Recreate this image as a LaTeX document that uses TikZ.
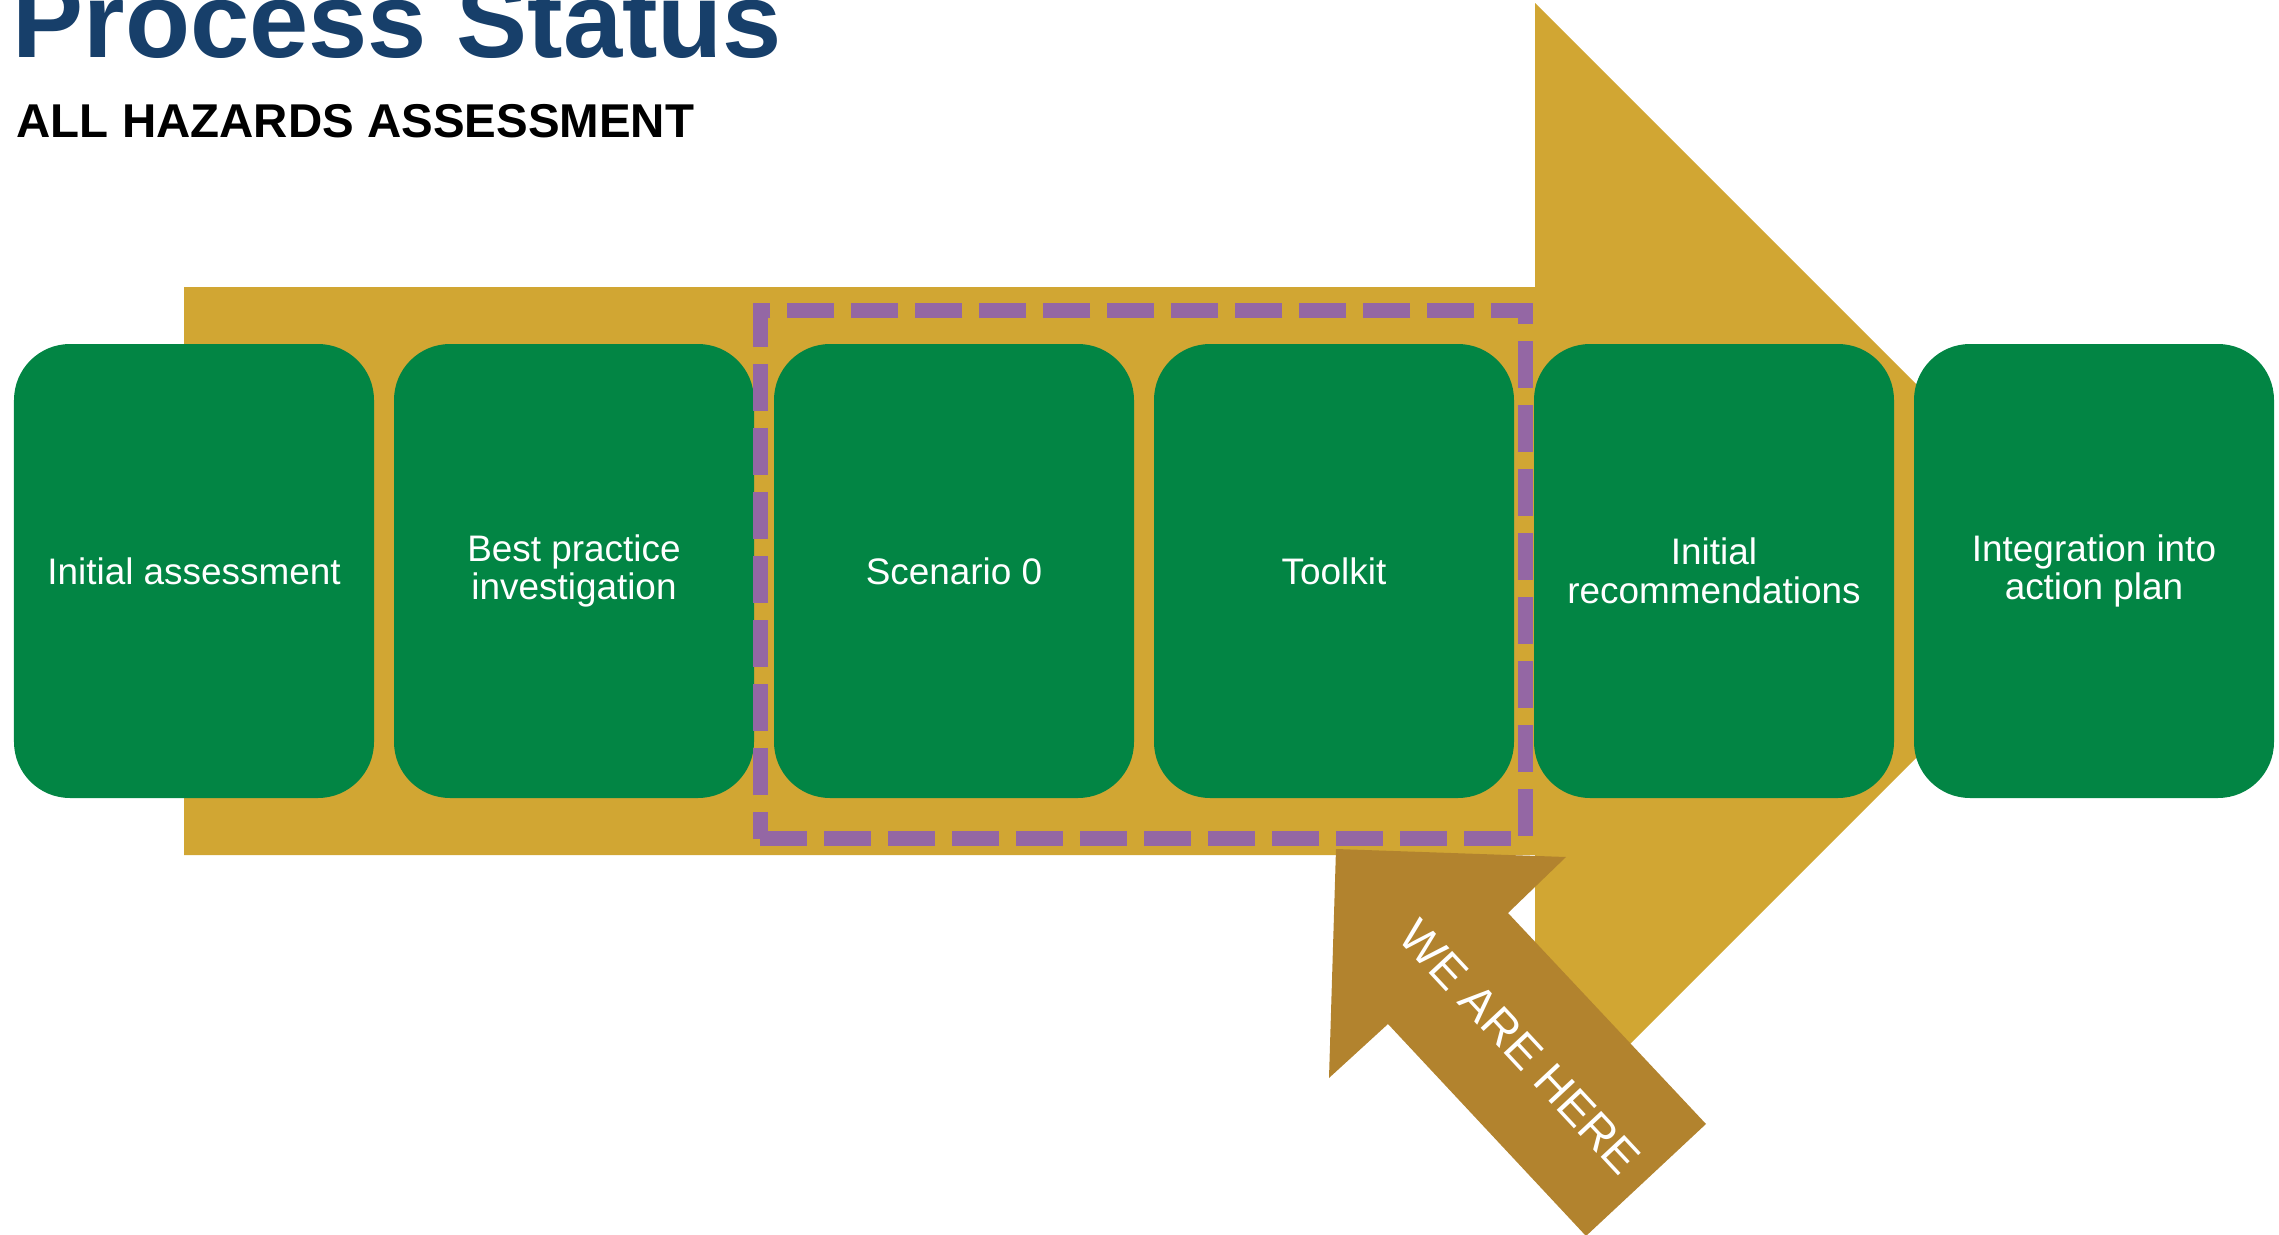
\documentclass[tikz,border=0pt]{standalone}
\usepackage{fontspec}
\setmainfont{Liberation Sans}
\usepackage{xcolor}
\usetikzlibrary{positioning,fit}

\definecolor{titleblue}{RGB}{23,63,106}
\definecolor{stagegreen}{RGB}{2,133,68}
\definecolor{arrowgold}{RGB}{209,166,51}
\definecolor{heregold}{RGB}{178,131,46}
\definecolor{markpurple}{RGB}{148,103,164}

\begin{document}
\begin{tikzpicture}[
  stage/.style={fill=stagegreen, rounded corners=0.56cm, minimum width=3.6cm, minimum height=4.54cm, inner sep=0, outer sep=0, text=white, font=\fontsize{10.5}{11}\selectfont, align=center},
  current/.style={draw=markpurple, line width=0.15cm, dash pattern=on 0.47cm off 0.17cm, inner xsep=0.125cm, inner ysep=0.372cm}
]
  \clip (0,0) rectangle (22.79,12.34);

  % headings
  \node[anchor=base west, inner sep=0, text=titleblue, font=\bfseries\fontsize{30.3}{36}\selectfont] (title) at (0.12,11.77) {Process Status};
  \node[anchor=base west, inner sep=0, font=\bfseries\fontsize{13.5}{16}\selectfont] (subtitle) at (0.16,10.97) {ALL HAZARDS ASSESSMENT};

  % big process arrow behind the stages
  \fill[arrowgold] (1.84,3.79) -- (1.84,9.47) -- (15.35,9.47) -- (15.35,12.31) -- (21.03,6.63) -- (15.35,0.95) -- (15.35,3.79) -- cycle;

  % stages
  \node[stage] (init) at (1.94,6.63) {Initial assessment};
  \node[stage, right=0.2cm of init] (best) {Best practice\\investigation};
  \node[stage, right=0.2cm of best] (scen) {Scenario 0};
  \node[stage, right=0.2cm of scen] (tool) {Toolkit};
  \node[stage, right=0.2cm of tool] (recs) {Initial\\recommendations};
  \node[stage, right=0.2cm of recs] (plan) {Integration into\\action plan};

  % current stages
  \node[current, fit=(scen)(tool), xshift=-0.015cm, yshift=-0.036cm] (now) {};

  % pointer
  \fill[heregold] (13.36,3.85) -- (15.66,3.77) -- (15.08,3.21) -- (17.06,1.10) -- (15.86,-0.02) -- (13.88,2.10) -- (13.29,1.56) -- cycle;
  \node[rotate=-47, text=white, font=\fontsize{13.3}{15}\selectfont] (here) at (15.20,1.87) {WE ARE HERE};
\end{tikzpicture}
\end{document}
